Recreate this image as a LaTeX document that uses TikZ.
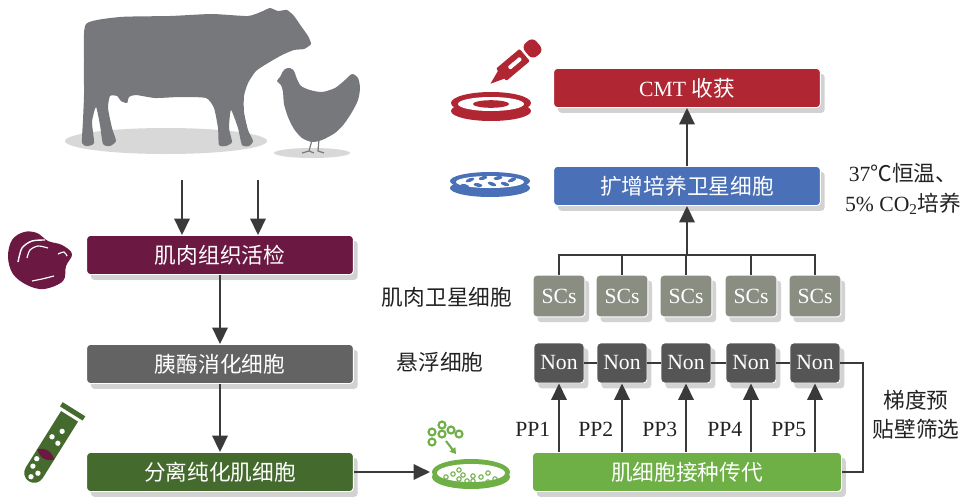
\documentclass[tikz,border=0pt]{standalone}
\usepackage{fontspec}
\setmainfont{Liberation Serif}
\newfontfamily\cjk{Noto Sans CJK SC}
\usetikzlibrary{arrows.meta,shadows}

\definecolor{animal}{HTML}{77787B}
\definecolor{ground}{HTML}{D8D8D8}
\definecolor{meat}{HTML}{6B1942}
\definecolor{digestgray}{HTML}{636363}
\definecolor{darkgreen}{HTML}{446A2D}
\definecolor{lightgreen}{HTML}{6EAF46}
\definecolor{expandblue}{HTML}{4A70B7}
\definecolor{harvestred}{HTML}{B02632}
\definecolor{scgray}{HTML}{8A8E82}
\definecolor{nongray}{HTML}{555555}
\definecolor{arrowgray}{HTML}{3A3A3A}
\definecolor{boxshadow}{HTML}{D2D2D2}
\definecolor{labeltext}{HTML}{222222}

\newcommand{\bigtext}{\fontsize{18.5}{22}\selectfont}

\begin{document}
\begin{tikzpicture}[
    x=0.03cm, y=-0.03cm,
    box/.style={
        rectangle,
        rounded corners=3pt,
        draw=white,
        line width=0.8pt,
        text=white,
        font=\bigtext,
        minimum width=8cm,
        minimum height=1.17cm,
        drop shadow={shadow xshift=0.13cm, shadow yshift=-0.16cm,
                     fill=boxshadow, opacity=1}
    },
    smallbox/.style={box, minimum width=1.55cm, minimum height=1.25cm, inner sep=1pt},
    scbox/.style={smallbox, fill=scgray},
    nonbox/.style={smallbox, fill=nongray, minimum width=1.5cm, minimum height=1.2cm},
    lab/.style={text=labeltext, font=\bigtext},
    flow/.style={arrowgray, line width=2.3pt, -{Triangle[width=13pt,length=14pt]}},
    link/.style={arrowgray, line width=1.7pt}
]
\useasboundingbox (0,0) rectangle (966,496);

% Cow and hen
\fill[ground] (166,141) ellipse [x radius=101, y radius=13];
\fill[ground] (312,153) ellipse [x radius=38, y radius=5];
\fill[animal] plot[smooth cycle, tension=0.35] coordinates {
    (86,24) (120,17) (170,16) (212,14) (248,16) (263,11) (270,8) (278,11)
    (287,10) (294,16) (301,26) (308,36) (311,44) (304,49) (294,50) (282,55)
    (268,63) (256,71) (248,83) (244,96) (244,112) (248,130) (253,141)
    (249,146) (242,145) (238,128) (231,110) (229,128) (232,142) (226,146)
    (219,145) (218,128) (214,108) (206,98) (180,97) (155,98) (136,95)
    (129,97) (127,103) (121,101) (117,96) (110,96) (108,108) (112,128)
    (116,141) (110,146) (103,144) (100,125) (96,107) (92,122) (94,143)
    (87,146) (82,143) (83,120) (84,95) (84,60)};
\fill[animal] plot[smooth cycle, tension=0.45] coordinates {
    (282,73) (285,69) (290,68) (294,71) (297,79) (301,86) (310,90) (322,92)
    (335,88) (345,80) (352,74) (358,78) (360,88) (358,100) (352,112)
    (344,124) (335,133) (322,140) (312,142) (302,138) (294,129) (288,117)
    (284,104) (283,92) (281,85) (277,81) (280,77)};
\draw[animal, line width=1pt] (312,140) -- (309,151) -- (302,153)
    (309,151) -- (314,153) (319,139) -- (318,151) -- (324,153);

% Biopsy tissue
\fill[meat] plot[smooth cycle, tension=0.6] coordinates {
    (12,240) (24,232) (37,233) (48,241) (62,245) (72,254) (66,266)
    (63,281) (44,289) (27,285) (13,274) (8,257)};
\draw[white, line width=1.2pt] plot[smooth] coordinates {(18,262) (22,248) (32,241) (45,240)};
\draw[white, line width=1pt] plot[smooth] coordinates {(27,258) (30,250) (38,246) (48,248)};
\draw[white, line width=1pt] plot[smooth] coordinates {(58,254) (64,252) (67,256)};
\draw[white, line width=1pt] plot[smooth] coordinates {(32,281) (42,279) (54,276)};

% Test tube
\begin{scope}[shift={(51,446)}, x=1cm, y=1cm, rotate=-32]
    \fill[darkgreen] (-0.3,1.05) -- (-0.3,-0.95) arc[start angle=180, end angle=360, radius=0.3]
        -- (0.3,1.05) -- cycle;
    \fill[darkgreen] (-0.4,1.15) rectangle (0.4,1.3);
    \fill[meat] (-0.3,-0.3) .. controls (-0.1,-0.12) and (0.1,-0.12) .. (0.3,-0.3)
        .. controls (0.1,-0.48) and (-0.1,-0.48) .. cycle;
    \foreach \px/\py in {0.05/0.55, -0.12/0.25, 0.13/0.18, -0.14/-0.8, 0.1/-0.9, -0.02/-1.1, -0.16/-0.55}
        \fill[white] (\px,\py) circle[radius=0.08];
\end{scope}

% Seeding dish
\fill[lightgreen] (471,477) ellipse [x radius=39, y radius=12];
\fill[lightgreen] (471,472) ellipse [x radius=39, y radius=13];
\fill[white] (471,473) ellipse [x radius=34, y radius=9];
\foreach \px/\py in {446/477, 453/474, 459/479, 463/475, 467/481, 473/476,
                    473/481, 481/477, 488/473, 488/482, 495/479, 459/470}
    \draw[lightgreen, line width=0.9pt] (\px,\py) circle[radius=2.2];
\foreach \px/\py in {432/432, 442/425, 442/434, 451/430, 459/434, 432/442}
    \draw[lightgreen, line width=1.8pt] (\px,\py) circle[radius=3.5];
\draw[lightgreen, line width=1.8pt, -{Triangle[width=6pt,length=5pt]}] (446,441) -- (456,454);

% Expansion dish
\fill[expandblue] (490,188) ellipse [x radius=40, y radius=9];
\fill[expandblue] (490,181) ellipse [x radius=40, y radius=9];
\fill[white] (490,182) ellipse [x radius=34, y radius=6];
\foreach \px/\py/\ang in {470/180/20, 478/185/-10, 483/178/15, 492/184/-20,
                          498/178/10, 505/184/-15, 512/180/20, 465/186/-15}
    \fill[expandblue, rotate around={\ang:(\px,\py)}] (\px,\py) ellipse [x radius=4.5, y radius=1.8];

% Harvest dish and pipette
\fill[harvestred] (491,111) ellipse [x radius=40, y radius=10];
\fill[harvestred] (491,103) ellipse [x radius=40, y radius=11];
\fill[white] (491,104) ellipse [x radius=33, y radius=7];
\fill[harvestred] (491,104) ellipse [x radius=18, y radius=3.8];
\begin{scope}[shift={(514,64)}, x=1cm, y=1cm, rotate=40]
    \fill[harvestred] (-0.92,0) -- (-0.45,0.17) -- (-0.45,-0.17) -- cycle;
    \fill[harvestred, rounded corners=1pt] (-0.5,-0.24) rectangle (0.42,0.24);
    \fill[harvestred, rounded corners=5pt] (0.5,-0.26) rectangle (0.95,0.26);
    \fill[white, rounded corners=1pt] (-0.2,-0.06) rectangle (0.27,0.06);
\end{scope}

% Process boxes
\node[box, fill=meat] (biopsy) at (220,255) {\cjk 肌肉组织活检};
\node[box, fill=digestgray] (digest) at (220,364) {\cjk 胰酶消化细胞};
\node[box, fill=darkgreen] (purify) at (220,472) {\cjk 分离纯化肌细胞};
\node[box, fill=harvestred] (cmt) at (687,88) {CMT {\cjk 收获}};
\node[box, fill=expandblue] (expand) at (687,186) {\cjk 扩增培养卫星细胞};
\node[box, fill=lightgreen, minimum width=9.27cm] (seed) at (687,472) {\cjk 肌细胞接种传代};

% Satellite cells and suspended cells per passage
\foreach \px [count=\i] in {559,622,686,751,815} {
    \node[scbox] (sc\i) at (\px,296) {SCs};
    \node[nonbox] (non\i) at (\px,363) {Non};
}

% Side labels
\node[lab, font=\bigtext\cjk] (sclab) at (447,297) {肌肉卫星细胞};
\node[lab, font=\bigtext\cjk] (nonlab) at (440,362) {悬浮细胞};
\node[lab, align=center, font=\fontsize{18.5}{25}\selectfont] (culture) at (903,189)
    {37{\cjk ℃恒温、}\\5\% CO\textsubscript{2}{\cjk 培养}};
\node[lab, align=center, font=\fontsize{18.5}{25}\selectfont\cjk] (screen) at (916,415)
    {梯度预\\贴壁筛选};

% Connectors
\coordinate (cowA) at (182,180);
\coordinate (cowB) at (258,180);
\coordinate (dish) at (430,472);
\coordinate (fork) at (687,255);
\coordinate (back) at (863,472);
\draw[flow] (cowA) -- (cowA |- biopsy.north);
\draw[flow] (cowB) -- (cowB |- biopsy.north);
\draw[flow] (biopsy) -- (digest);
\draw[flow] (digest) -- (purify);
\draw[flow] (purify) -- (dish);
\draw[flow] (expand) -- (cmt);
\draw[flow] (fork) -- (expand);
\draw[link] (sc1.north) |- (fork) -| (sc5.north);
\foreach \i in {2,3,4}
    \draw[link] (sc\i.north) -- (sc\i.north |- fork);
\draw[link] (non1) -- (non2) -- (non3) -- (non4) -- (non5);
\draw[link] (non5.east) -| (back) -- (seed.east);
\foreach \i in {1,...,5}
    \draw[flow] (seed.north -| non\i) -- node[lab, left, pos=0.33, xshift=-3pt] {PP\i} (non\i.south);

\end{tikzpicture}
\end{document}
